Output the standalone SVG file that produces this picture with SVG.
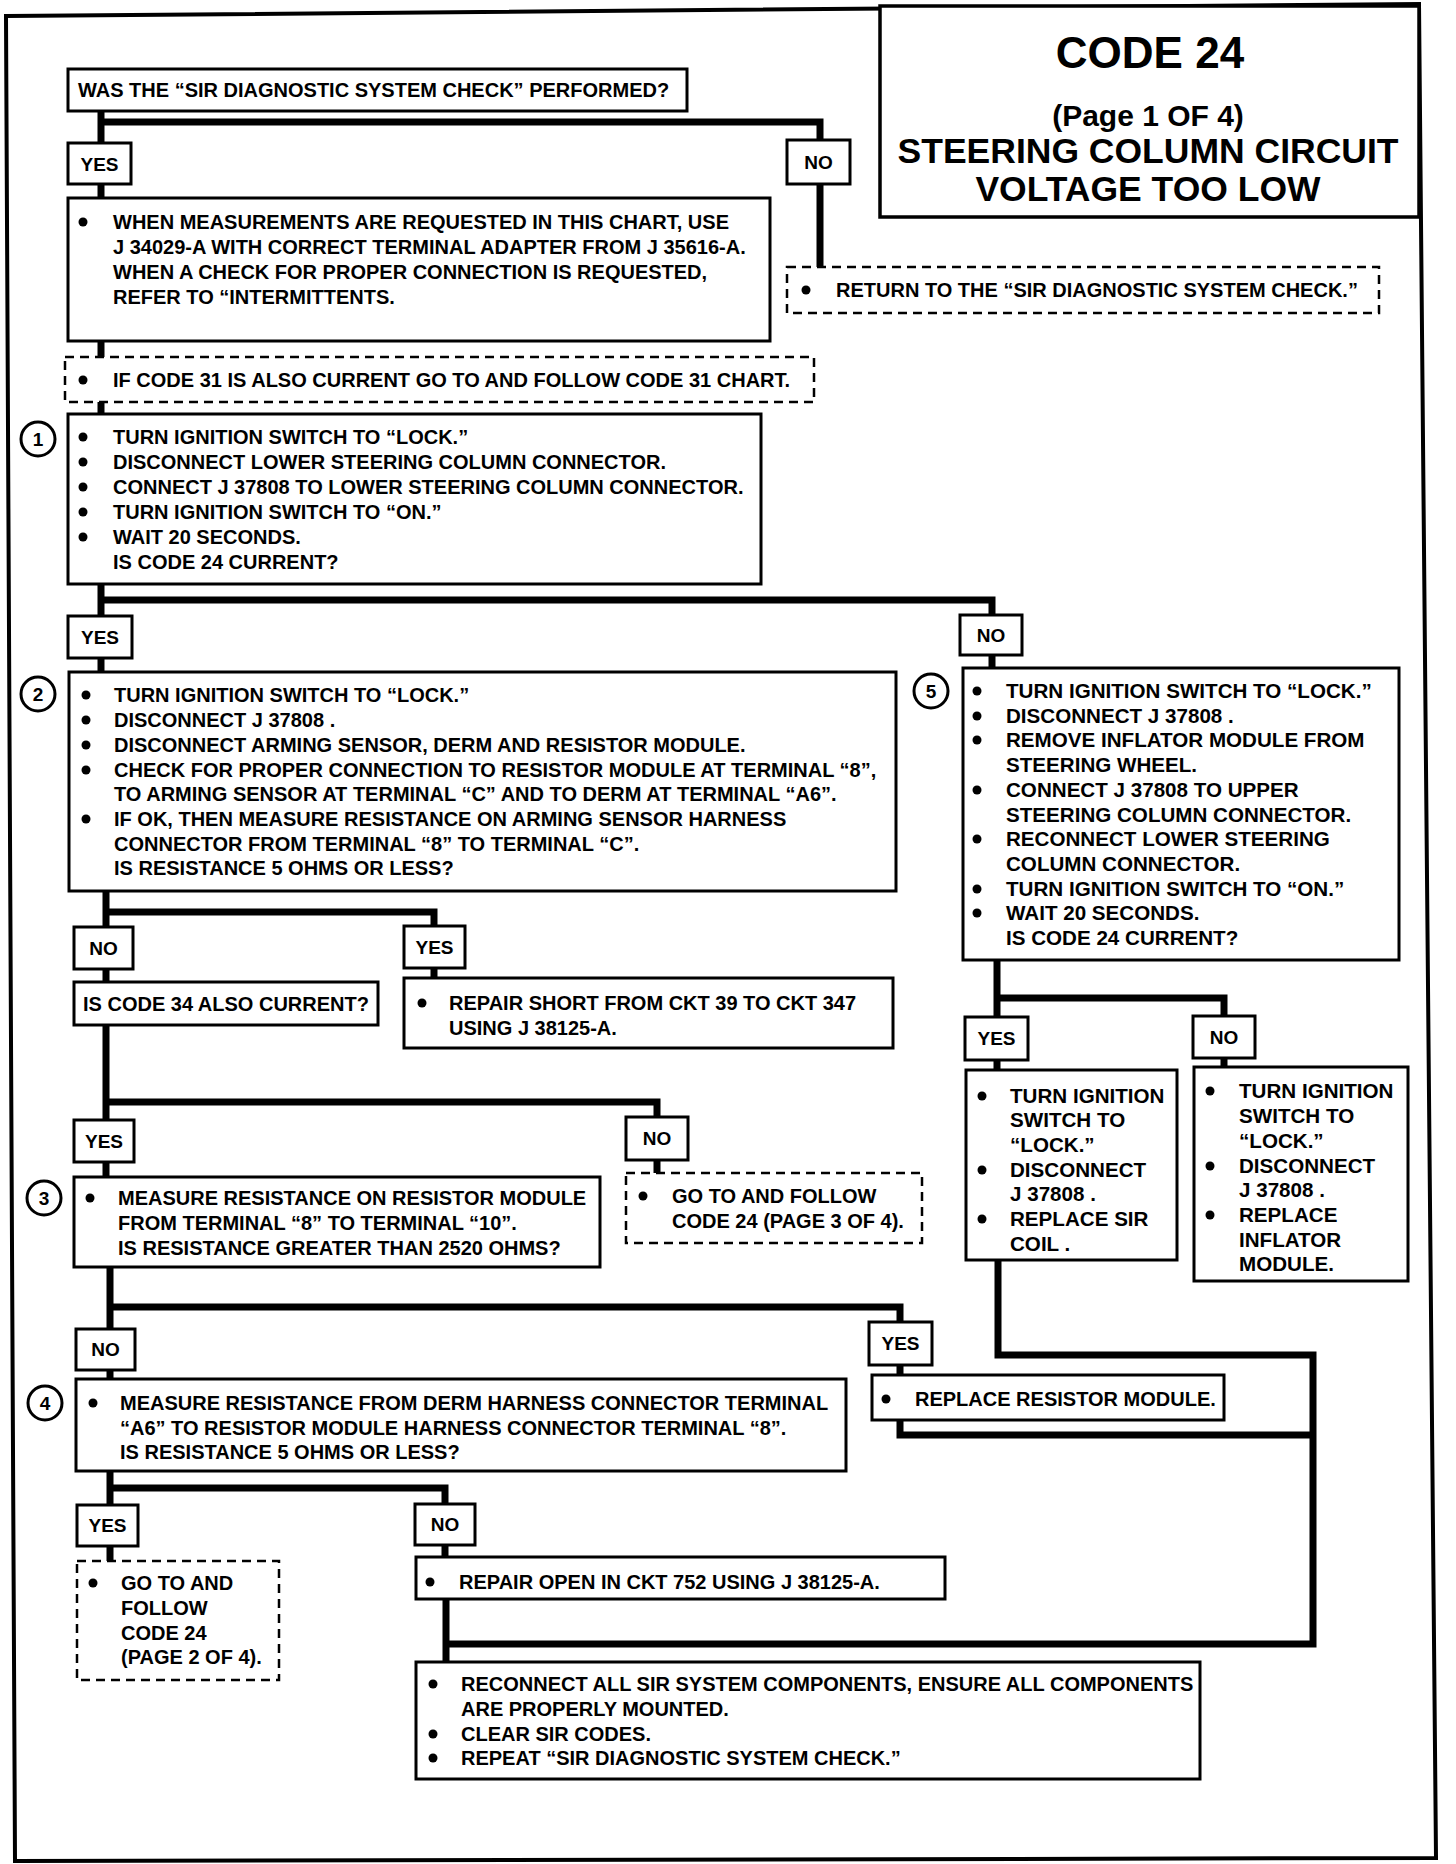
<svg xmlns="http://www.w3.org/2000/svg" width="1456" height="1864" viewBox="0 0 1456 1864">
<style>
.bx{fill:#fff;stroke:#000;stroke-width:3}
.ds{fill:#fff;stroke:#000;stroke-width:2.5;stroke-dasharray:9 6}
.cn{fill:none;stroke:#000;stroke-width:7;stroke-linejoin:miter;stroke-linecap:butt}
.t{font-family:"Liberation Sans",Arial,sans-serif;font-weight:bold;font-size:20px;fill:#000}
.w{font-size:20.6px}
.lb{font-family:"Liberation Sans",Arial,sans-serif;font-weight:bold;font-size:19px;fill:#000;text-anchor:middle}
.ti{font-family:"Liberation Sans",Arial,sans-serif;font-weight:bold;fill:#000;text-anchor:middle}
.ci{fill:#fff;stroke:#000;stroke-width:3}
.b{fill:#000}
</style>
<rect width="1456" height="1864" fill="#fff"/>
<path d="M6,16 L1419,4 L1436,1858 L15,1861 Z" fill="none" stroke="#000" stroke-width="4"/>

<g id="connectors">
<path class="cn" d="M101,111 V143 M101,122 H820 V140"/>
<path class="cn" d="M101,184 V198"/>
<path class="cn" d="M820,184 V267"/>
<path class="cn" d="M101,341 V357"/>
<path class="cn" d="M101,402 V414"/>
<path class="cn" d="M101,584 V616 M101,600 H992 V615"/>
<path class="cn" d="M101,658 V672"/>
<path class="cn" d="M992,655 V668"/>
<path class="cn" d="M106,891 V927 M106,912 H434 V926"/>
<path class="cn" d="M106,969 V982 M434,968 V978"/>
<path class="cn" d="M106,1025 V1120 M106,1102 H657 V1117"/>
<path class="cn" d="M106,1162 V1177 M657,1160 V1173"/>
<path class="cn" d="M110,1267 V1329 M110,1307 H900 V1322"/>
<path class="cn" d="M110,1370 V1379 M900,1365 V1375"/>
<path class="cn" d="M110,1471 V1505 M110,1488 H445 V1504"/>
<path class="cn" d="M110,1546 V1561 M445,1545 V1557"/>
<path class="cn" d="M446,1599 V1662 M446,1644 H1313 V1355 H998 V1260"/>
<path class="cn" d="M900,1420 V1435 H1313"/>
<path class="cn" d="M997,960 V1017 M997,998 H1224 V1016"/>
<path class="cn" d="M997,1060 V1070 M1224,1058 V1067"/>
</g>

<g id="title">
<rect x="880" y="6" width="539" height="211" fill="#fff" stroke="#000" stroke-width="3.5"/>
<text class="ti" x="1150" y="68" font-size="44">CODE 24</text>
<text class="ti" x="1148" y="126" font-size="30">(Page 1 OF 4)</text>
<text class="ti" x="1148" y="163" font-size="35.5">STEERING COLUMN CIRCUIT</text>
<text class="ti" x="1148" y="201" font-size="35.5">VOLTAGE TOO LOW</text>
</g>

<g id="q-sir-check">
<rect class="bx" x="68" y="69" width="619" height="42"/>
<text class="t" x="78" y="97">WAS THE “SIR DIAGNOSTIC SYSTEM CHECK” PERFORMED?</text>
</g>
<g id="yes-1"><rect class="bx" x="68" y="143" width="63" height="41"/><text class="lb" x="99.5" y="171">YES</text></g>
<g id="no-1"><rect class="bx" x="787" y="140" width="63" height="44"/><text class="lb" x="818.5" y="169">NO</text></g>

<g id="measurements-note">
<rect class="bx" x="68" y="198" width="702" height="143"/>
<circle class="b" cx="83" cy="222" r="4.5"/>
<text class="t" x="113" y="229">WHEN MEASUREMENTS ARE REQUESTED IN THIS CHART, USE</text>
<text class="t" x="113" y="254">J 34029-A WITH CORRECT TERMINAL ADAPTER FROM J 35616-A.</text>
<text class="t" x="113" y="279">WHEN A CHECK FOR PROPER CONNECTION IS REQUESTED,</text>
<text class="t" x="113" y="304">REFER TO “INTERMITTENTS.</text>
</g>

<g id="return-check">
<rect class="ds" x="787" y="267" width="592" height="46"/>
<circle class="b" cx="806" cy="290" r="4.5"/>
<text class="t" x="836" y="297">RETURN TO THE “SIR DIAGNOSTIC SYSTEM CHECK.”</text>
</g>

<g id="code31-note">
<rect class="ds" x="65" y="357" width="749" height="45"/>
<circle class="b" cx="83" cy="380" r="4.5"/>
<text class="t" x="113" y="387">IF CODE 31 IS ALSO CURRENT GO TO AND FOLLOW CODE 31 CHART.</text>
</g>

<g id="step-1">
<circle class="ci" cx="38" cy="439" r="17"/><text class="lb" x="38" y="446">1</text>
<rect class="bx" x="68" y="414" width="693" height="170"/>
<circle class="b" cx="83" cy="437" r="4.5"/><circle class="b" cx="83" cy="462" r="4.5"/><circle class="b" cx="83" cy="487" r="4.5"/><circle class="b" cx="83" cy="512" r="4.5"/><circle class="b" cx="83" cy="537" r="4.5"/>
<text class="t" x="113" y="444">TURN IGNITION SWITCH TO “LOCK.”</text>
<text class="t" x="113" y="469">DISCONNECT LOWER STEERING COLUMN CONNECTOR.</text>
<text class="t" x="113" y="494">CONNECT J 37808 TO LOWER STEERING COLUMN CONNECTOR.</text>
<text class="t" x="113" y="519">TURN IGNITION SWITCH TO “ON.”</text>
<text class="t" x="113" y="544">WAIT 20 SECONDS.</text>
<text class="t" x="113" y="569">IS CODE 24 CURRENT?</text>
</g>
<g id="yes-2"><rect class="bx" x="68" y="616" width="64" height="42"/><text class="lb" x="100" y="644">YES</text></g>
<g id="no-2"><rect class="bx" x="960" y="615" width="62" height="40"/><text class="lb" x="991" y="642">NO</text></g>

<g id="step-2">
<circle class="ci" cx="38" cy="694" r="17"/><text class="lb" x="38" y="701">2</text>
<rect class="bx" x="69" y="672" width="827" height="219"/>
<circle class="b" cx="86" cy="695" r="4.5"/><circle class="b" cx="86" cy="720" r="4.5"/><circle class="b" cx="86" cy="745" r="4.5"/><circle class="b" cx="86" cy="770" r="4.5"/><circle class="b" cx="86" cy="819" r="4.5"/>
<text class="t" x="114" y="702">TURN IGNITION SWITCH TO “LOCK.”</text>
<text class="t" x="114" y="727">DISCONNECT J 37808 .</text>
<text class="t" x="114" y="752">DISCONNECT ARMING SENSOR, DERM AND RESISTOR MODULE.</text>
<text class="t" x="114" y="777">CHECK FOR PROPER CONNECTION TO RESISTOR MODULE AT TERMINAL “8”,</text>
<text class="t" x="114" y="801">TO ARMING SENSOR AT TERMINAL “C” AND TO DERM AT TERMINAL “A6”.</text>
<text class="t" x="114" y="826">IF OK, THEN MEASURE RESISTANCE ON ARMING SENSOR HARNESS</text>
<text class="t" x="114" y="851">CONNECTOR FROM TERMINAL “8” TO TERMINAL “C”.</text>
<text class="t" x="114" y="875">IS RESISTANCE 5 OHMS OR LESS?</text>
</g>

<g id="step-5">
<circle class="ci" cx="931" cy="691" r="17"/><text class="lb" x="931" y="698">5</text>
<rect class="bx" x="963" y="668" width="436" height="292"/>
<circle class="b" cx="977" cy="691" r="4.5"/><circle class="b" cx="977" cy="716" r="4.5"/><circle class="b" cx="977" cy="740" r="4.5"/><circle class="b" cx="977" cy="790" r="4.5"/><circle class="b" cx="977" cy="839" r="4.5"/><circle class="b" cx="977" cy="889" r="4.5"/><circle class="b" cx="977" cy="913" r="4.5"/>
<text class="t w" x="1006" y="698">TURN IGNITION SWITCH TO “LOCK.”</text>
<text class="t w" x="1006" y="723">DISCONNECT J 37808 .</text>
<text class="t w" x="1006" y="747">REMOVE INFLATOR MODULE FROM</text>
<text class="t w" x="1006" y="772">STEERING WHEEL.</text>
<text class="t w" x="1006" y="797">CONNECT J 37808 TO UPPER</text>
<text class="t w" x="1006" y="822">STEERING COLUMN CONNECTOR.</text>
<text class="t w" x="1006" y="846">RECONNECT LOWER STEERING</text>
<text class="t w" x="1006" y="871">COLUMN CONNECTOR.</text>
<text class="t w" x="1006" y="896">TURN IGNITION SWITCH TO “ON.”</text>
<text class="t w" x="1006" y="920">WAIT 20 SECONDS.</text>
<text class="t w" x="1006" y="945">IS CODE 24 CURRENT?</text>
</g>

<g id="no-3"><rect class="bx" x="74" y="927" width="59" height="42"/><text class="lb" x="103.5" y="955">NO</text></g>
<g id="yes-3"><rect class="bx" x="404" y="926" width="61" height="42"/><text class="lb" x="434.5" y="954">YES</text></g>

<g id="q-code34">
<rect class="bx" x="74" y="982" width="304" height="43"/>
<text class="t" x="83" y="1011">IS CODE 34 ALSO CURRENT?</text>
</g>

<g id="repair-short">
<rect class="bx" x="404" y="978" width="489" height="70"/>
<circle class="b" cx="422" cy="1003" r="4.5"/>
<text class="t" x="449" y="1010">REPAIR SHORT FROM CKT 39 TO CKT 347</text>
<text class="t" x="449" y="1035">USING J 38125-A.</text>
</g>

<g id="yes-4"><rect class="bx" x="74" y="1120" width="60" height="42"/><text class="lb" x="104" y="1148">YES</text></g>
<g id="no-4"><rect class="bx" x="626" y="1117" width="62" height="43"/><text class="lb" x="657" y="1145">NO</text></g>

<g id="goto-page3">
<rect class="ds" x="626" y="1173" width="296" height="70"/>
<circle class="b" cx="643" cy="1196" r="4.5"/>
<text class="t" x="672" y="1203">GO TO AND FOLLOW</text>
<text class="t" x="672" y="1228">CODE 24 (PAGE 3 OF 4).</text>
</g>

<g id="step-3">
<circle class="ci" cx="44" cy="1198" r="17"/><text class="lb" x="44" y="1205">3</text>
<rect class="bx" x="74" y="1177" width="526" height="90"/>
<circle class="b" cx="90" cy="1198" r="4.5"/>
<text class="t" x="118" y="1205">MEASURE RESISTANCE ON RESISTOR MODULE</text>
<text class="t" x="118" y="1230">FROM TERMINAL “8” TO TERMINAL “10”.</text>
<text class="t" x="118" y="1255">IS RESISTANCE GREATER THAN 2520 OHMS?</text>
</g>

<g id="yes-5b"><rect class="bx" x="965" y="1017" width="63" height="43"/><text class="lb" x="996.5" y="1045">YES</text></g>
<g id="no-5b"><rect class="bx" x="1193" y="1016" width="62" height="42"/><text class="lb" x="1224" y="1044">NO</text></g>

<g id="replace-coil">
<rect class="bx" x="966" y="1070" width="211" height="190"/>
<circle class="b" cx="982" cy="1096" r="4.5"/><circle class="b" cx="982" cy="1170" r="4.5"/><circle class="b" cx="982" cy="1219" r="4.5"/>
<text class="t w" x="1010" y="1103">TURN IGNITION</text>
<text class="t w" x="1010" y="1127">SWITCH TO</text>
<text class="t w" x="1010" y="1152">“LOCK.”</text>
<text class="t w" x="1010" y="1177">DISCONNECT</text>
<text class="t w" x="1010" y="1201">J 37808 .</text>
<text class="t w" x="1010" y="1226">REPLACE SIR</text>
<text class="t w" x="1010" y="1251">COIL .</text>
</g>

<g id="replace-inflator">
<rect class="bx" x="1194" y="1067" width="214" height="214"/>
<circle class="b" cx="1210" cy="1091" r="4.5"/><circle class="b" cx="1210" cy="1166" r="4.5"/><circle class="b" cx="1210" cy="1215" r="4.5"/>
<text class="t w" x="1239" y="1098">TURN IGNITION</text>
<text class="t w" x="1239" y="1123">SWITCH TO</text>
<text class="t w" x="1239" y="1148">“LOCK.”</text>
<text class="t w" x="1239" y="1173">DISCONNECT</text>
<text class="t w" x="1239" y="1197">J 37808 .</text>
<text class="t w" x="1239" y="1222">REPLACE</text>
<text class="t w" x="1239" y="1247">INFLATOR</text>
<text class="t w" x="1239" y="1271">MODULE.</text>
</g>

<g id="no-5"><rect class="bx" x="76" y="1329" width="59" height="41"/><text class="lb" x="105.5" y="1356">NO</text></g>
<g id="yes-5"><rect class="bx" x="869" y="1322" width="63" height="43"/><text class="lb" x="900.5" y="1350">YES</text></g>

<g id="replace-resistor">
<rect class="bx" x="872" y="1375" width="352" height="45"/>
<circle class="b" cx="886" cy="1399" r="4.5"/>
<text class="t" x="915" y="1406">REPLACE RESISTOR MODULE.</text>
</g>

<g id="step-4">
<circle class="ci" cx="45" cy="1403" r="17"/><text class="lb" x="45" y="1410">4</text>
<rect class="bx" x="76" y="1379" width="770" height="92"/>
<circle class="b" cx="93" cy="1403" r="4.5"/>
<text class="t" x="120" y="1410">MEASURE RESISTANCE FROM DERM HARNESS CONNECTOR TERMINAL</text>
<text class="t" x="120" y="1435">“A6” TO RESISTOR MODULE HARNESS CONNECTOR TERMINAL “8”.</text>
<text class="t" x="120" y="1459">IS RESISTANCE 5 OHMS OR LESS?</text>
</g>

<g id="yes-6"><rect class="bx" x="77" y="1505" width="61" height="41"/><text class="lb" x="107.5" y="1532">YES</text></g>
<g id="no-6"><rect class="bx" x="415" y="1504" width="60" height="41"/><text class="lb" x="445" y="1531">NO</text></g>

<g id="goto-page2">
<rect class="ds" x="77" y="1561" width="202" height="119"/>
<circle class="b" cx="93" cy="1583" r="4.5"/>
<text class="t" x="121" y="1590">GO TO AND</text>
<text class="t" x="121" y="1615">FOLLOW</text>
<text class="t" x="121" y="1640">CODE 24</text>
<text class="t" x="121" y="1664">(PAGE 2 OF 4).</text>
</g>

<g id="repair-open">
<rect class="bx" x="416" y="1557" width="529" height="42"/>
<circle class="b" cx="430" cy="1582" r="4.5"/>
<text class="t" x="459" y="1589">REPAIR OPEN IN CKT 752 USING J 38125-A.</text>
</g>

<g id="reconnect-all">
<rect class="bx" x="416" y="1662" width="784" height="117"/>
<circle class="b" cx="433" cy="1684" r="4.5"/><circle class="b" cx="433" cy="1734" r="4.5"/><circle class="b" cx="433" cy="1758" r="4.5"/>
<text class="t" x="461" y="1691">RECONNECT ALL SIR SYSTEM COMPONENTS, ENSURE ALL COMPONENTS</text>
<text class="t" x="461" y="1716">ARE PROPERLY MOUNTED.</text>
<text class="t" x="461" y="1741">CLEAR SIR CODES.</text>
<text class="t" x="461" y="1765">REPEAT “SIR DIAGNOSTIC SYSTEM CHECK.”</text>
</g>
</svg>
